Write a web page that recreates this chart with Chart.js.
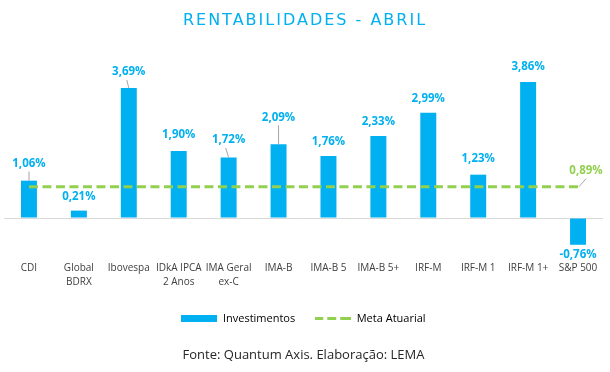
<!DOCTYPE html>
<html>
<head>
<meta charset="utf-8">
<script src="https://cdn.jsdelivr.net/npm/chart.js@4.4.1/dist/chart.umd.min.js"></script>
<style>
html,body{margin:0;padding:0;background:#ffffff;}
#wrap{width:610px;height:372px;}
</style>
</head>
<body>
<div id="wrap"><canvas id="c" width="610" height="372"></canvas></div>
<script>
// ---- data ----
const categories = [['CDI'], ['Global', 'BDRX'], ['Ibovespa'], ['IDkA IPCA', '2 Anos'], ['IMA Geral', 'ex-C'], ['IMA-B'], ['IMA-B 5'], ['IMA-B 5+'], ['IRF-M'], ['IRF-M 1'], ['IRF-M 1+'], ['S&P 500']];
const investimentos = [1.06, 0.21, 3.69, 1.90, 1.72, 2.09, 1.76, 2.33, 2.99, 1.23, 3.86, -0.76];
const metaAtuarial = [0.89, 0.89, 0.89, 0.89, 0.89, 0.89, 0.89, 0.89, 0.89, 0.89, 0.89, 0.89];
const seriesNames = ['Investimentos', 'Meta Atuarial'];
const titleText = 'RENTABILIDADES - ABRIL';
const sourceText = 'Fonte: Quantum Axis. Elaboração: LEMA';

// ---- style ----
const BLUE = '#00B0F0';
const GREEN = '#92D050';
const LEADER = '#A6A6A6';
const FONT = "'Open Sans', 'Noto Sans', sans-serif";

function fmt(v) { return v.toFixed(2).replace('.', ',') + '%'; }

// legend icons
const boxImg = document.createElement('canvas');
boxImg.width = 36; boxImg.height = 7;
(function(){ const g = boxImg.getContext('2d'); g.fillStyle = BLUE; g.fillRect(0, 0, 36, 7); })();
const dashImg = document.createElement('canvas');
dashImg.width = 36; dashImg.height = 3;
(function(){ const g = dashImg.getContext('2d'); g.fillStyle = GREEN; g.fillRect(0, 0, 8, 3); g.fillRect(12, 0, 9, 3); g.fillRect(25, 0, 11, 3); })();

const titlePlugin = {
  id: 'customTitle',
  afterDraw(chart) {
    const ctx = chart.ctx;
    ctx.save();
    ctx.font = "16px 'DejaVu Sans', sans-serif";
    ctx.fillStyle = BLUE;
    ctx.textAlign = 'center';
    ctx.textBaseline = 'middle';
    if ('letterSpacing' in ctx) ctx.letterSpacing = '2px';
    ctx.fillText(titleText, 305, 21);
    ctx.restore();
  }
};

const valueLabels = {
  id: 'valueLabels',
  afterDatasetsDraw(chart, args, opts) {
    const ctx = chart.ctx;
    ctx.save();
    ctx.font = "bold 11.5px " + FONT;
    ctx.textAlign = 'center';
    ctx.textBaseline = 'middle';
    // bar labels
    const meta = chart.getDatasetMeta(0);
    meta.data.forEach((bar, i) => {
      const v = investimentos[i];
      const gap = opts.gaps[i] !== undefined ? opts.gaps[i] : opts.defaultGap;
      let y;
      if (v >= 0) y = bar.y - gap; else y = bar.y + gap;
      if (opts.leaders.includes(i)) {
        ctx.strokeStyle = LEADER; ctx.lineWidth = 1;
        ctx.beginPath();
        const d = opts.leaderDx[i] || 0;
        ctx.moveTo(bar.x - d, y + 8);
        ctx.lineTo(bar.x, bar.y);
        ctx.stroke();
      }
      ctx.fillStyle = BLUE;
      ctx.fillText(fmt(v), bar.x, y);
    });
    // meta label at last point
    const lm = chart.getDatasetMeta(1);
    const p = lm.data[lm.data.length - 1];
    ctx.strokeStyle = LEADER; ctx.lineWidth = 1;
    ctx.beginPath();
    ctx.moveTo(p.x + 1, p.y);
    ctx.lineTo(p.x + 8, p.y - 8);
    ctx.stroke();
    ctx.fillStyle = GREEN;
    ctx.fillText(fmt(metaAtuarial[metaAtuarial.length - 1]), p.x + 8, p.y - 16);
    ctx.restore();
  }
};

new Chart(document.getElementById('c'), {
  type: 'bar',
  data: {
    labels: categories,
    datasets: [
      {
        type: 'bar',
        label: seriesNames[0],
        data: investimentos,
        backgroundColor: BLUE,
        borderWidth: 0,
        barPercentage: 0.32,
        categoryPercentage: 1.0,
        order: 2
      },
      {
        type: 'line',
        label: seriesNames[1],
        data: metaAtuarial,
        borderColor: GREEN,
        borderWidth: 3,
        borderDash: [9, 4.5],
        pointRadius: 0,
        fill: false,
        tension: 0,
        order: 1
      }
    ]
  },
  options: {
    responsive: false,
    animation: false,
    devicePixelRatio: 1,
    layout: { padding: { top: 60, left: 4, right: 7, bottom: 0 } },
    scales: {
      x: {
        grid: { display: false, drawTicks: false },
        border: { display: false },
        ticks: {
          color: '#404040',
          font: { family: FONT, size: 10, lineHeight: 1.4 },
          padding: 4,
          maxRotation: 0,
          autoSkip: false
        },
        afterFit(s) { s.height = 36.4; }
      },
      y: {
        min: -1.107,
        max: 4.485,
        ticks: { display: false },
        grid: {
          drawTicks: false,
          color: c => (c.tick && c.tick.value === 0) ? '#D9D9D9' : 'rgba(0,0,0,0)',
          lineWidth: 1
        },
        border: { display: false },
        afterBuildTicks(s) { s.ticks = [{ value: 0 }]; },
        afterFit(s) { s.width = 0; }
      }
    },
    plugins: {
      title: { display: false },
      tooltip: { enabled: false },
      legend: {
        display: true,
        position: 'bottom',
        labels: {
          usePointStyle: true,
          pointStyleWidth: 36,
          padding: 20,
          color: '#404040',
          font: { family: FONT, size: 11 },
          generateLabels: () => [
            { text: seriesNames[0], pointStyle: boxImg, fillStyle: BLUE, strokeStyle: BLUE, lineWidth: 0, datasetIndex: 0, hidden: false },
            { text: seriesNames[1], pointStyle: dashImg, fillStyle: GREEN, strokeStyle: GREEN, lineWidth: 0, datasetIndex: 1, hidden: false }
          ]
        }
      },
      subtitle: {
        display: true,
        position: 'bottom',
        text: sourceText,
        color: '#262626',
        font: { family: FONT, size: 13, weight: 'normal' },
        padding: { top: 13, bottom: 9 }
      },
      valueLabels: {
        defaultGap: 14,
        gaps: { 0: 17, 2: 16, 3: 16, 4: 17.5, 5: 27, 9: 15.5, 10: 15, 11: 10 },
        leaders: [0, 2, 4, 5],
        leaderDx: { 2: 2, 4: 3 }
      }
    }
  },
  plugins: [titlePlugin, valueLabels]
});
</script>
</body>
</html>
